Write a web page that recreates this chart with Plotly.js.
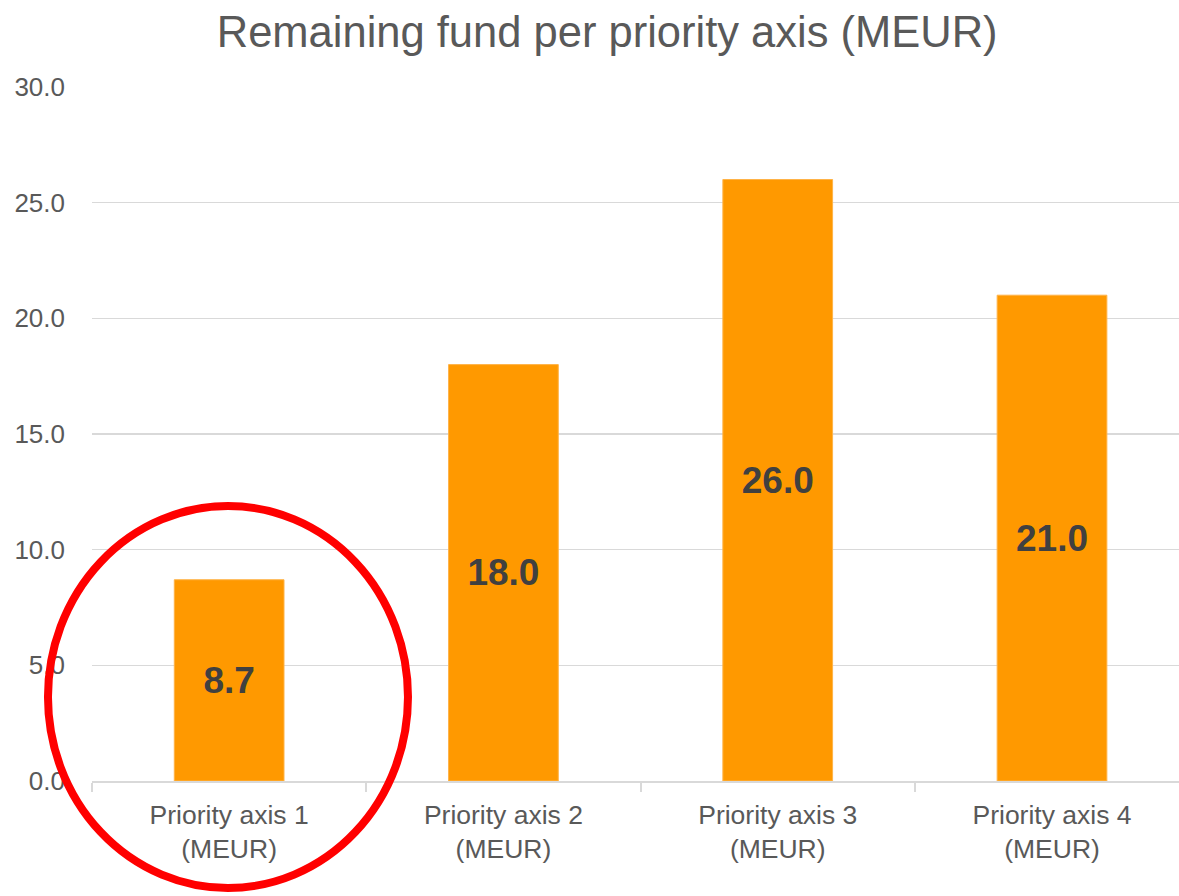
<!DOCTYPE html>
<html>
<head>
<meta charset="utf-8">
<script src="https://cdn.plot.ly/plotly-3.0.1.min.js"></script>
<style>html,body{margin:0;padding:0;background:#fff;}#chart{width:1179px;height:896px;}</style>
</head>
<body>
<div id="chart"></div>
<script>
const categories = ["Priority axis 1<br>(MEUR)", "Priority axis 2<br>(MEUR)", "Priority axis 3<br>(MEUR)", "Priority axis 4<br>(MEUR)"];
const values = [8.7, 18.0, 26.0, 21.0];
const valueLabels = values.map(v => v.toFixed(1));
const yTicks = [0, 5, 10, 15, 20, 25, 30];
const yTickLabels = yTicks.map(v => v.toFixed(1));

const trace = {
  type: 'bar',
  x: categories,
  y: values,
  text: valueLabels,
  textposition: 'inside',
  insidetextanchor: 'middle',
  textangle: 0,
  textfont: {family: 'Liberation Sans, Arial, sans-serif', size: 37, color: '#404040', weight: 'bold'},
  marker: {color: '#FF9900', line: {color: '#FFB347', width: 1}},
  hoverinfo: 'none'
};

const layout = {
  width: 1179, height: 896,
  margin: {l: 92, r: 0, t: 87, b: 115},
  paper_bgcolor: '#ffffff', plot_bgcolor: '#ffffff',
  font: {family: 'Liberation Sans, Arial, sans-serif', color: '#595959'},
  title: {text: 'Remaining fund per priority axis (MEUR)', x: 0.515, xanchor: 'center', y: 0.965, yanchor: 'middle',
          font: {size: 43.5, color: '#595959', family: 'Liberation Sans, Arial, sans-serif'}},
  bargap: 0.6,
  showlegend: false,
  xaxis: {
    type: 'category',
    range: [-0.5, 3.463],
    showline: true, linecolor: '#d9d9d9', linewidth: 2,
    ticks: 'outside', tickson: 'boundaries', ticklen: 9, tickcolor: '#d9d9d9', tickwidth: 2,
    tickfont: {size: 26.5, color: '#595959'},
    ticklabelstandoff: 9,
    showgrid: false, zeroline: false, fixedrange: true
  },
  yaxis: {
    range: [0, 30],
    tickvals: yTicks, ticktext: yTickLabels,
    tickfont: {size: 26, color: '#595959'},
    showgrid: true, gridcolor: '#d9d9d9', gridwidth: 1.5,
    zeroline: false, showline: false, ticks: '',
    ticklabelstandoff: 26, fixedrange: true
  },
  shapes: [{
    type: 'circle', xref: 'paper', yref: 'paper',
    x0: -0.0405, x1: 0.2907, y0: -0.1542, y1: 0.3963,
    line: {color: '#FF0000', width: 8}, fillcolor: 'rgba(0,0,0,0)'
  }]
};

Plotly.newPlot('chart', [trace], layout, {displayModeBar: false, staticPlot: true});
</script>
</body>
</html>
